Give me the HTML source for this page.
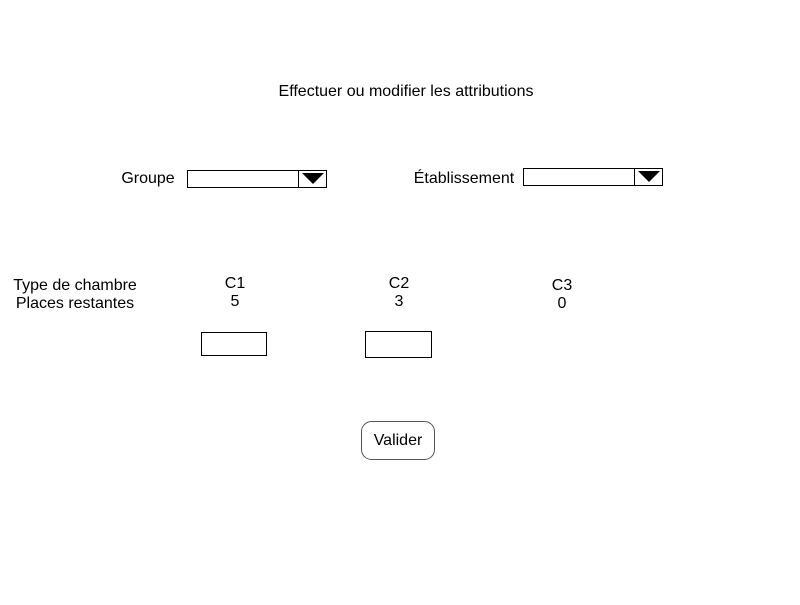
<!DOCTYPE html>
<html><head><meta charset="utf-8"><style>body{margin:0;background:#fff}</style></head><body>
<svg width="800" height="600" xmlns="http://www.w3.org/2000/svg" font-family="Liberation Sans, sans-serif" font-size="16" fill="#000">
<rect width="800" height="600" fill="#fff"/>
<text x="406" y="96" text-anchor="middle">Effectuer ou modifier les attributions</text>
<text x="148" y="183" text-anchor="middle">Groupe</text>
<rect x="187.5" y="170.5" width="139" height="17" fill="#fff" stroke="#000"/>
<line x1="298.5" y1="170.5" x2="298.5" y2="187.5" stroke="#000"/>
<polygon points="302,173 324,173 313,184" fill="#000"/>
<text x="464" y="183" text-anchor="middle">Établissement</text>
<rect x="523.5" y="168.5" width="139" height="17" fill="#fff" stroke="#000"/>
<line x1="634.5" y1="168.5" x2="634.5" y2="185.5" stroke="#000"/>
<polygon points="638,171 660,171 649,182" fill="#000"/>
<text x="75" y="290" text-anchor="middle">Type de chambre</text>
<text x="75" y="308" text-anchor="middle">Places restantes</text>
<text x="235" y="288" text-anchor="middle">C1</text>
<text x="235" y="306" text-anchor="middle">5</text>
<text x="399" y="288" text-anchor="middle">C2</text>
<text x="399" y="306" text-anchor="middle">3</text>
<text x="562" y="290" text-anchor="middle">C3</text>
<text x="562" y="308" text-anchor="middle">0</text>
<rect x="201.5" y="332.5" width="65" height="23" fill="#fff" stroke="#000"/>
<rect x="365.5" y="331.5" width="66" height="26" fill="#fff" stroke="#000"/>
<rect x="361.5" y="421.5" width="73" height="38" rx="10" fill="#fff" stroke="#555"/>
<text x="398" y="445" text-anchor="middle">Valider</text>
</svg>
</body></html>
